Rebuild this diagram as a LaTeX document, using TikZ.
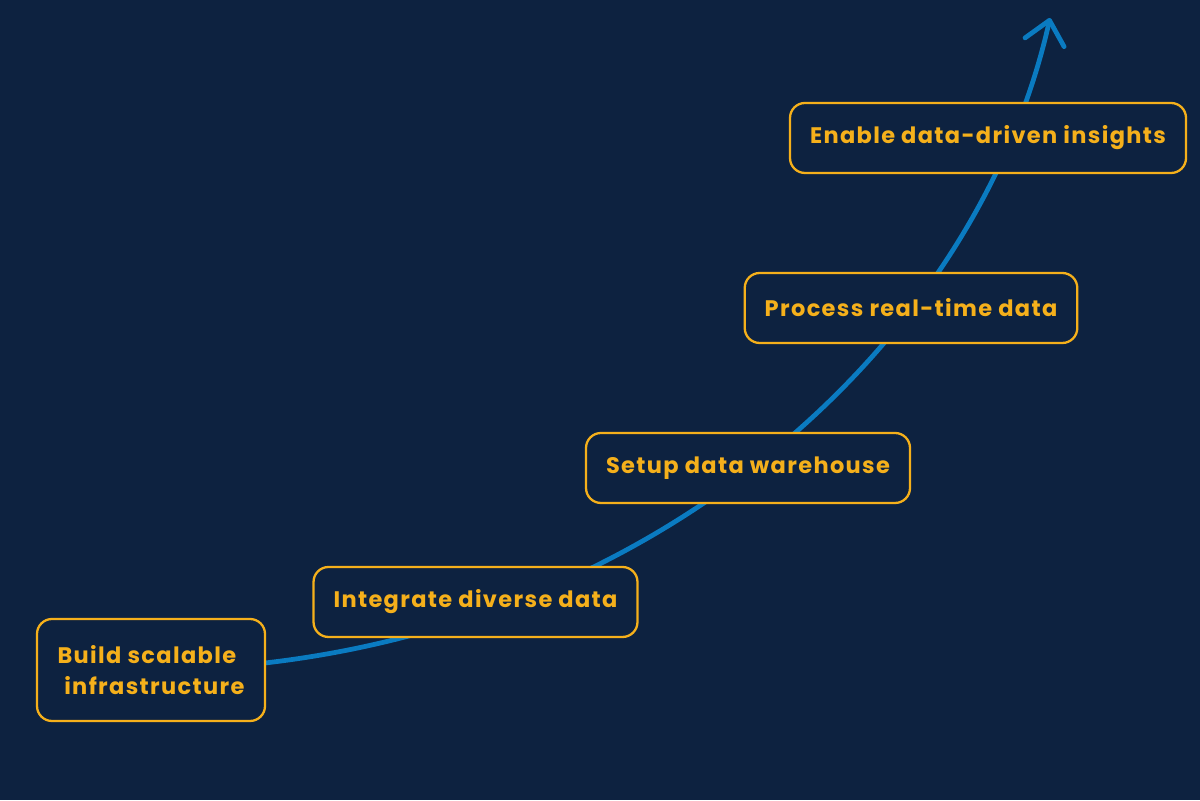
\documentclass[tikz,border=0pt]{standalone}
\usepackage{fontspec}
\setmainfont{Poppins}[LetterSpace=6]
\usepackage{tikz}
\usetikzlibrary{arrows.meta,positioning,calc}
\definecolor{navy}{HTML}{0D2240}
\definecolor{amber}{HTML}{F5B01B}
\definecolor{skyline}{HTML}{0A7BC1}
\tikzstyle{stepbox} = [draw=amber, line width=1.3pt, rounded corners=.3cm, text=amber, font=\bfseries\fontsize{12.8}{17.5}\selectfont, inner xsep=.4cm, minimum height=1.4cm]
\tikzstyle{Growth} = [-{Straight Barb[length=4.5mm,width=8mm,round]}, draw=skyline, line width=2.7pt, line cap=round]

\begin{document}
\begin{tikzpicture}
            \fill[navy] (0,0) rectangle (24,16);
            \useasboundingbox (0,0) rectangle (24,16);
            %%%%% Growth curve %%%%%
            \coordinate (T) at (21.0,15.64);
            \coordinate (S) at (5.3,2.74);
            \draw [Growth] (S) .. controls (13.6,3.7) and (19.6,9.4) .. (T);
            %%%%% Steps %%%%%
            \node (A) [stepbox, fill=navy, align=left, minimum width=4.56cm, minimum height=2.04cm] at (3.02,2.60) {Build scalable\\\hspace{.3em}infrastructure};
            \node (B) [stepbox, fill=navy] at (9.51,3.96) {Integrate diverse data};
            \node (C) [stepbox, fill=navy] at (14.96,6.64) {Setup data warehouse};
            \node (D) [stepbox, fill=navy] at (18.22,9.84) {Process real-time data};
            \node (E) [stepbox, fill=navy] at (19.76,13.24) {Enable data-driven insights};
\end{tikzpicture}
\end{document}
